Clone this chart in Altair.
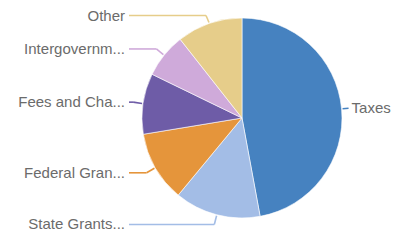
import altair as alt
import pandas as pd

categories = ["Taxes", "State Grants...", "Federal Gran...", "Fees and Cha...", "Intergovernm...", "Other"]
values = [47.1, 13.9, 11.4, 9.8, 7.2, 10.6]
colors = ["#4682c0", "#a3bde6", "#e5953b", "#6e5ca7", "#cfaada", "#e6cd8a"]

df = pd.DataFrame({"cat": categories, "value": values, "idx": list(range(len(categories)))})

CX, CY, R = 234, 110, 100
color = alt.Color("cat:N", scale=alt.Scale(domain=categories, range=colors), legend=None)

base = alt.Chart(df).transform_joinaggregate(
    total="sum(value)"
).transform_window(
    cum="sum(value)", sort=[alt.SortField("idx", order="ascending")]
).transform_calculate(
    mid="(datum.cum - datum.value/2) / datum.total * 2 * PI"
).transform_calculate(
    right="sin(datum.mid) >= 0",
).transform_calculate(
    re="datum.right ? 107 : 110",
).transform_calculate(
    x0=f"{CX} + {R+1}*sin(datum.mid)",
    y0=f"{CY} - {R+1}*cos(datum.mid)",
    x1=f"{CX} + datum.re*sin(datum.mid)",
    y1=f"clamp({CY} - datum.re*cos(datum.mid), 7.5, 217)",
).transform_calculate(
    x2="datum.right ? datum.x1 : 121",
    lx="datum.right ? datum.x1 + 3 : 117",
)

pie = alt.Chart(df).mark_arc(outerRadius=R, stroke="white", strokeWidth=0.6).encode(
    theta=alt.Theta("value:Q", stack=True),
    color=color,
    order=alt.Order("idx:Q", sort="ascending"),
    x=alt.value(CX),
    y=alt.value(CY),
)

seg1 = base.mark_rule(strokeWidth=1.6).encode(
    x=alt.X("x0:Q", scale=None, axis=None),
    y=alt.Y("y0:Q", scale=None, axis=None),
    x2="x1:Q",
    y2="y1:Q",
    color=color,
)
seg2 = base.mark_rule(strokeWidth=1.6).encode(
    x=alt.X("x1:Q", scale=None, axis=None),
    y=alt.Y("y1:Q", scale=None, axis=None),
    x2="x2:Q",
    y2="y1:Q",
    color=color,
)

txt_style = dict(font="Liberation Sans", fontSize=15, color="#6b6b6b", baseline="middle")
left_txt = base.transform_filter("!datum.right").mark_text(align="right", **txt_style).encode(
    x=alt.X("lx:Q", scale=None, axis=None),
    y=alt.Y("y1:Q", scale=None, axis=None),
    text="cat:N",
)
right_txt = base.transform_filter("datum.right").mark_text(align="left", **txt_style).encode(
    x=alt.X("lx:Q", scale=None, axis=None),
    y=alt.Y("y1:Q", scale=None, axis=None),
    text="cat:N",
)

chart = alt.layer(pie, seg1, seg2, left_txt, right_txt).properties(
    width=386, height=225, padding=0, autosize=alt.AutoSizeParams(type="none")
).configure_view(stroke=None)

chart.save("out.html", embed_options={"renderer": "svg", "actions": False})
